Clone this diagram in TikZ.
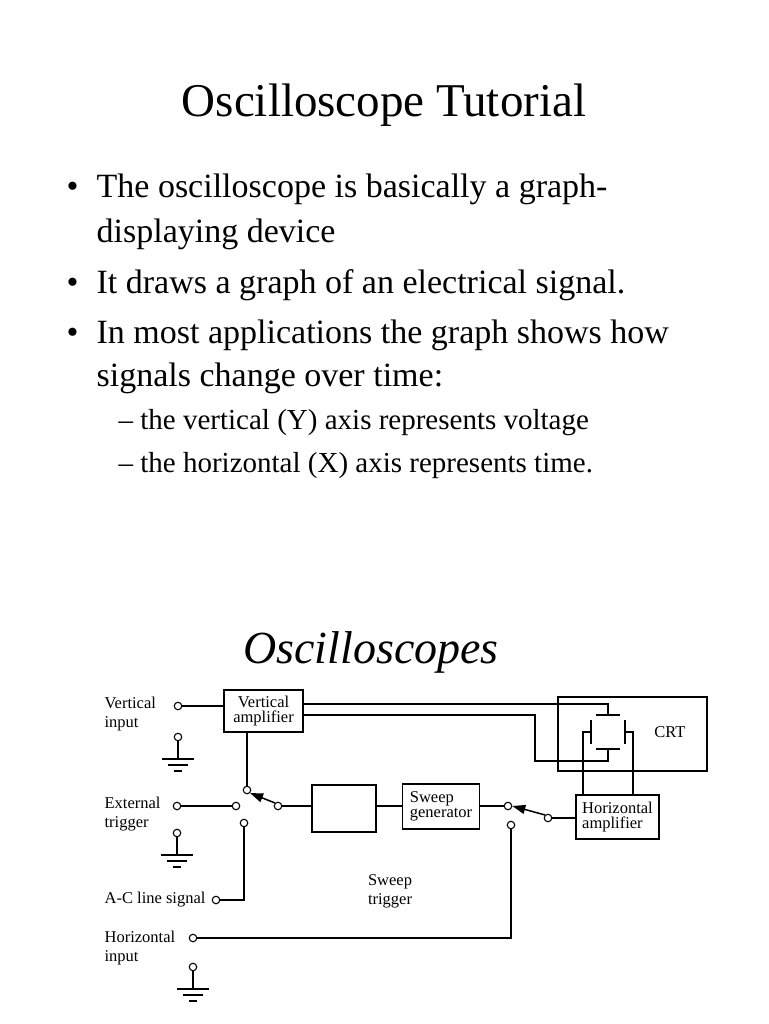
\documentclass[tikz,border=0pt]{standalone}
\usepackage{fontspec}
\setmainfont{Liberation Serif}
\usetikzlibrary{arrows.meta}
\begin{document}
\begin{tikzpicture}[x=1pt,y=-1pt,line width=1.3pt,
 term/.style={circle,draw,fill=white,inner sep=0pt,minimum size=7.5pt,line width=1.1pt},
 blk/.style={draw,inner sep=0pt,align=left,font=\fontsize{16.5}{15.5}\selectfont},
 lbl/.style={anchor=west,inner sep=0pt,font=\fontsize{16.5}{19}\selectfont,align=left},
 btxt/.style={anchor=base west,inner sep=0pt,font=\fontsize{34}{34}\selectfont},
 stxt/.style={anchor=base west,inner sep=0pt,font=\fontsize{29}{29}\selectfont},
 sw/.style={-{Triangle[length=13pt,width=9pt]},line width=1.5pt}]
\useasboundingbox (0,0) rectangle (768,1024);
% texts
\node[anchor=base,inner sep=0pt,font=\fontsize{47}{47}\selectfont] (title) at (384,117) {Oscilloscope Tutorial};
\node[btxt] (b1) at (66,198) {•};
\node[btxt] (t1) at (96,198) {The oscilloscope is basically a graph-};
\node[btxt] (t1b) at (96,243) {displaying device};
\node[btxt] (b2) at (66,293) {•};
\node[btxt] (t2) at (96,293) {It draws a graph of an electrical signal.};
\node[btxt] (b3) at (66,343) {•};
\node[btxt] (t3) at (96,343) {In most applications the graph shows how};
\node[btxt] (t3b) at (96,386) {signals change over time:};
\node[stxt] (s1) at (118,429) {– the vertical (Y) axis represents voltage};
\node[stxt] (s2) at (118,472) {– the horizontal (X) axis represents time.};
\node[anchor=base,inner sep=0pt,font=\fontsize{46}{46}\selectfont\itshape] (sub) at (371,663) {Oscilloscopes};
% labels
\node[lbl] (lvi) at (104,714) {Vertical\\input};
\node[lbl] (let) at (104,814) {External\\trigger};
\node[lbl] (lac) at (104,900) {A-C line signal};
\node[lbl] (lhi) at (104,948) {Horizontal\\input};
\node[inner sep=0pt,font=\fontsize{16.5}{19}\selectfont,align=center] (lst) at (390,891) {Sweep\\trigger};
% blocks
\node[blk,minimum width=79pt,minimum height=42pt,align=center] (va) at (263.5,711) {Vertical\\[-1pt]amplifier};
\node[draw,minimum width=64pt,minimum height=47pt,inner sep=0pt] (eb) at (344,808.5) {};
\node[blk,minimum width=77pt,minimum height=45pt,align=left] (sg) at (441,806.5) {Sweep\\[-1pt]generator};
\node[blk,minimum width=83pt,minimum height=44pt,align=left] (ha) at (617.5,817) {Horizontal\\[-1pt]amplifier};
\node[draw,minimum width=149pt,minimum height=74pt,inner sep=0pt] (crt) at (632.5,734) {};
\node[inner sep=0pt,font=\fontsize{16.5}{15}\selectfont] (crtl) at (670,732) {CRT};
% terminals
\node[term] (vi) at (178,706) {};
\node[term] (g1) at (178,737) {};
\node[term] (et) at (177,806) {};
\node[term] (g2) at (177,833) {};
\node[term] (ac) at (216,900) {};
\node[term] (hi) at (193,938) {};
\node[term] (g3) at (193,967) {};
\node[term] (s1a) at (247,790) {};
\node[term] (s1b) at (236,806) {};
\node[term] (s1c) at (244,823) {};
\node[term] (s1p) at (278,806) {};
\node[term] (s2a) at (508,806) {};
\node[term] (s2c) at (511,825) {};
\node[term] (s2p) at (548,818) {};
% grounds
\foreach \g/\x/\y in {g1/178/737,g2/177/833,g3/193/967}{
 \draw (\g.south) -- (\x,\y+22);
 \draw (\x-16,\y+22) -- (\x+16,\y+22);
 \draw (\x-10,\y+28) -- (\x+10,\y+28);
 \draw (\x-4,\y+34) -- (\x+4,\y+34);
}
% wires
\draw (vi.east) -- (vi -| va.west);
\draw (va.south -| s1a) -- (s1a.north);
\draw (et.east) -- (s1b.west);
\draw (s1c.south) |- (ac.east);
\draw[sw] (s1p.north west) -- (s1a.south east);
\draw (s1p.east) -- (s1p -| eb.west);
\draw (s1p -| eb.east) -- (s1p -| sg.west);
\draw (s2a -| sg.east) -- (s2a.west);
\draw[sw] (s2p.north west) -- (s2a.east);
\draw (s2p.east) -- (s2p -| ha.west);
\draw (hi.east) -| (s2c.south);
% CRT plates
\coordinate (pt) at (608,715);
\coordinate (pb) at (608,749);
\draw[line width=2.2pt] (596,715) -- (620,715);
\draw[line width=2.2pt] (596,749) -- (620,749);
\draw[line width=2.2pt] (591,720) -- (591,744);
\draw[line width=2.2pt] (625,720) -- (625,744);
\draw (va.east |- 0,704) -| (pt);
\draw (va.east |- 0,715) -- (535,715) -- (535,761) -| (pb);
\draw (591,732) -- (583,732) -- (583,795);
\draw (625,732) -- (633,732) -- (633,795);
\end{tikzpicture}
\end{document}
